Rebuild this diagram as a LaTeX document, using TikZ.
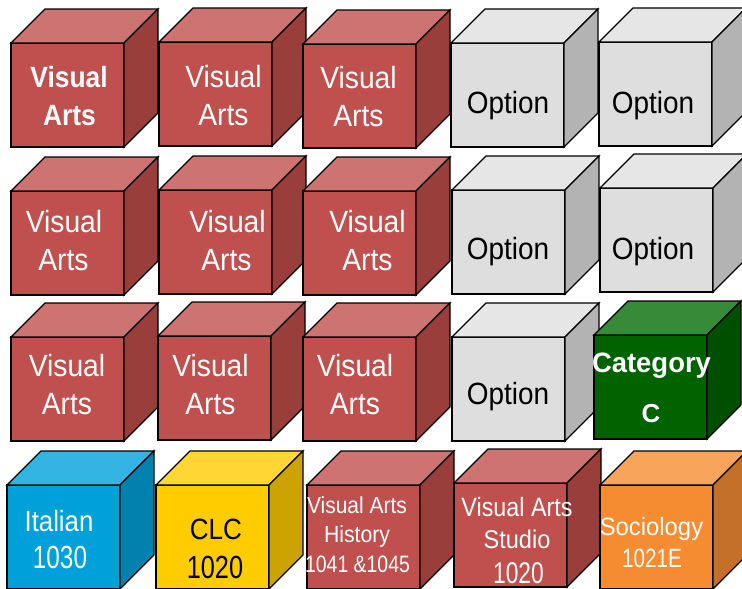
\documentclass[tikz,border=0pt]{standalone}
\usepackage{fontspec}
\usepackage{graphicx}
\setmainfont{Liberation Sans}
\definecolor{redfront}{HTML}{C0504D}
\definecolor{redtop}{HTML}{CD7371}
\definecolor{redside}{HTML}{9A3E3C}
\definecolor{grayfront}{HTML}{DEDEDE}
\definecolor{graytop}{HTML}{E6E6E6}
\definecolor{grayside}{HTML}{B3B3B3}
\definecolor{greenfront}{HTML}{006300}
\definecolor{greentop}{HTML}{378A38}
\definecolor{greenside}{HTML}{004F00}
\definecolor{bluefront}{HTML}{00A1DA}
\definecolor{bluetop}{HTML}{33B4E3}
\definecolor{blueside}{HTML}{0081AE}
\definecolor{yellowfront}{HTML}{FFCC00}
\definecolor{yellowtop}{HTML}{FFD633}
\definecolor{yellowside}{HTML}{CCA300}
\definecolor{orangefront}{HTML}{F68C31}
\definecolor{orangetop}{HTML}{F8A45A}
\definecolor{orangeside}{HTML}{C57028}
\newcommand{\fs}[1]{\fontsize{#1}{#1}\selectfont}
\newcommand{\tl}[3]{\fs{#1}\scalebox{#2}[1]{#3}}
\newcommand{\tlb}[3]{\fs{#1}\bfseries\scalebox{#2}[1]{#3}}
\tikzset{
  edge/.style={draw=black, line width=1.3pt},
  face/.style={edge, inner sep=0pt, outer sep=0pt, minimum width=113pt, minimum height=104pt, anchor=north west},
  lbl/.style={inner sep=0pt, anchor=base},
  wtxt/.style={lbl, text=white},
  btxt/.style={lbl, text=black},
}
\newcommand{\mycube}[4]{%
  \node[face, fill=#4front] (#1) at (#2,#3) {};
  \path (#1.north east) ++(34,-34) coordinate (#1bk);
  \path (#1.south east) ++(34,-34) coordinate (#1bb);
  \draw[edge, fill=#4top] (#1.north west) -- ++(34,-34) -- (#1bk) -- (#1.north east) -- cycle;
  \draw[edge, fill=#4side] (#1.north east) -- (#1bk) -- (#1bb) -- (#1.south east) -- cycle;
}
\begin{document}
\begin{tikzpicture}[x=1pt, y=-1pt]
\useasboundingbox (0,0) rectangle (742,589);
% row 1
\mycube{a1}{11}{43}{red}
\mycube{a2}{159}{42}{red}
\mycube{a3}{303}{44}{red}
\mycube{a4}{451}{43}{gray}
\mycube{a5}{599}{42}{gray}
% row 2
\mycube{b1}{11}{191}{red}
\mycube{b2}{159}{190}{red}
\mycube{b3}{303}{191}{red}
\mycube{b4}{452}{190}{gray}
\mycube{b5}{600}{188}{gray}
% row 3
\mycube{c1}{11}{337}{red}
\mycube{c2}{158}{336}{red}
\mycube{c3}{303}{337}{red}
\mycube{c4}{452}{337}{gray}
\mycube{c5}{594}{335}{green}
% row 4
\mycube{d1}{7}{485}{blue}
\mycube{d2}{156}{485}{yellow}
\mycube{d3}{307}{485}{red}
\mycube{d4}{454}{483}{red}
\mycube{d5}{600}{485}{orange}
% labels row 1
\node[wtxt] (a1t1) at (69,87) {\tlb{29.3}{0.90}{Visual}};
\node[wtxt] (a1t2) at (69.5,125) {\tlb{29.3}{0.90}{Arts}};
\node[wtxt] (a2t1) at (223.5,87) {\tl{30.7}{0.92}{Visual}};
\node[wtxt] (a2t2) at (223.5,125) {\tl{30.7}{0.92}{Arts}};
\node[wtxt] (a3t1) at (358.5,88) {\tl{30.7}{0.92}{Visual}};
\node[wtxt] (a3t2) at (358.5,126) {\tl{30.7}{0.92}{Arts}};
\node[btxt] (a4t) at (508,113) {\tl{30.7}{0.91}{Option}};
\node[btxt] (a5t) at (653,113) {\tl{30.7}{0.91}{Option}};
% labels row 2
\node[wtxt] (b1t1) at (64,232) {\tl{30.7}{0.92}{Visual}};
\node[wtxt] (b1t2) at (63.5,270) {\tl{30.7}{0.92}{Arts}};
\node[wtxt] (b2t1) at (227.5,232) {\tl{30.7}{0.92}{Visual}};
\node[wtxt] (b2t2) at (226.5,270) {\tl{30.7}{0.92}{Arts}};
\node[wtxt] (b3t1) at (367.5,232) {\tl{30.7}{0.92}{Visual}};
\node[wtxt] (b3t2) at (367.5,270) {\tl{30.7}{0.92}{Arts}};
\node[btxt] (b4t) at (508,259) {\tl{30.7}{0.91}{Option}};
\node[btxt] (b5t) at (653,259) {\tl{30.7}{0.91}{Option}};
% labels row 3
\node[wtxt] (c1t1) at (67,376) {\tl{30.7}{0.92}{Visual}};
\node[wtxt] (c1t2) at (67,414) {\tl{30.7}{0.92}{Arts}};
\node[wtxt] (c2t1) at (210.5,376) {\tl{30.7}{0.92}{Visual}};
\node[wtxt] (c2t2) at (210.5,414) {\tl{30.7}{0.92}{Arts}};
\node[wtxt] (c3t1) at (355,376) {\tl{30.7}{0.92}{Visual}};
\node[wtxt] (c3t2) at (355,414) {\tl{30.7}{0.92}{Arts}};
\node[btxt] (c4t) at (508,404) {\tl{30.7}{0.91}{Option}};
\node[wtxt] (c5t1) at (651.5,372) {\tlb{28}{0.98}{Category}};
\node[wtxt] (c5t2) at (651,422) {\tlb{26}{1}{C}};
% labels row 4
\node[wtxt] (d1t1) at (59,531) {\tl{29.3}{0.88}{Italian}};
\node[wtxt] (d1t2) at (60,568) {\tl{32}{0.76}{1030}};
\node[btxt] (d2t1) at (216,539) {\tl{29.3}{0.89}{CLC}};
\node[btxt] (d2t2) at (215,578) {\tl{32}{0.79}{1020}};
\node[wtxt] (d3t1) at (357,513) {\tl{23.3}{0.90}{Visual Arts}};
\node[wtxt] (d3t2) at (357,542) {\tl{23.3}{0.91}{History}};
\node[wtxt] (d3t3) at (357.5,572) {\tl{23.7}{0.82}{1041 \&1045}};
\node[wtxt] (d4t1) at (517,516) {\tl{26.5}{0.88}{Visual Arts}};
\node[wtxt] (d4t2) at (517,548) {\tl{25.6}{0.92}{Studio}};
\node[wtxt] (d4t3) at (518.5,583) {\tl{30}{0.76}{1020}};
\node[wtxt] (d5t1) at (651.5,535) {\tl{25.1}{0.95}{Sociology}};
\node[wtxt] (d5t2) at (652,567) {\tl{26.5}{0.78}{1021E}};
\end{tikzpicture}
\end{document}
